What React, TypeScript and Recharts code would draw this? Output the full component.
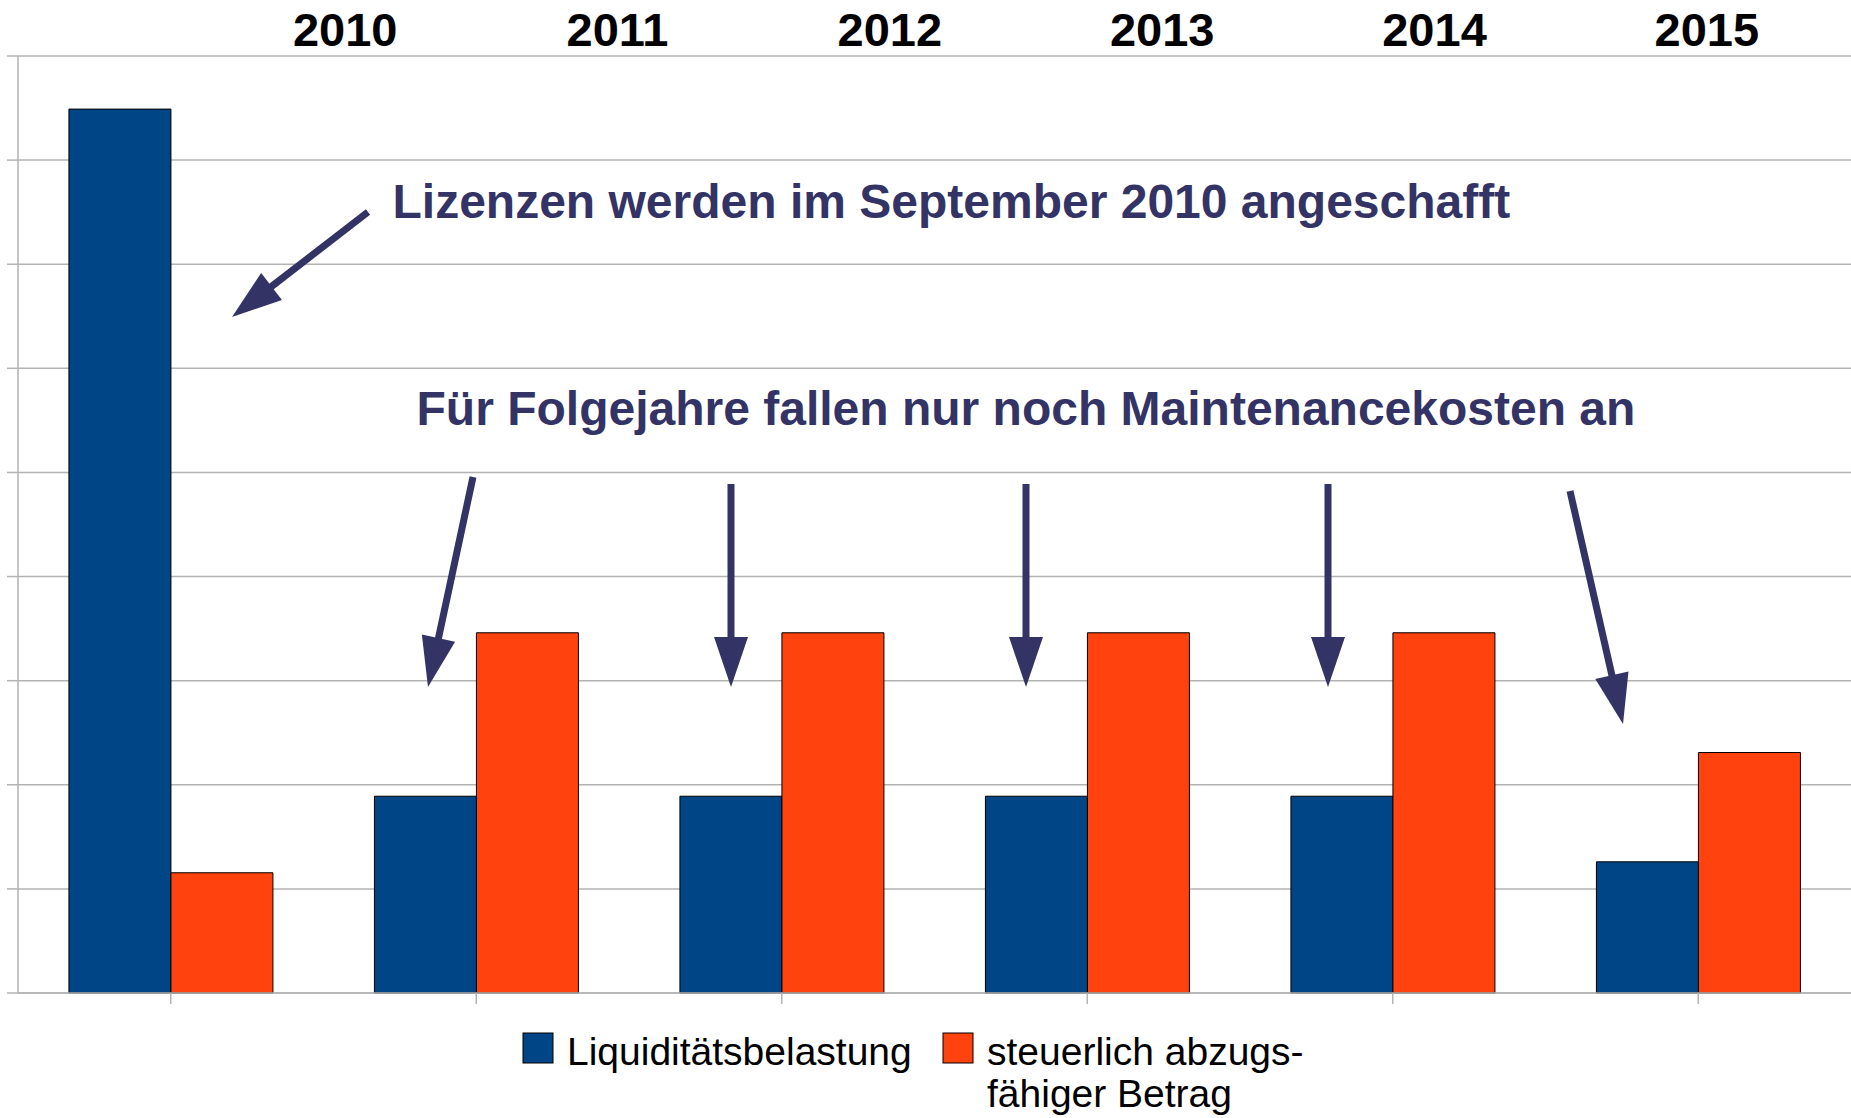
import { BarChart, Bar, XAxis, YAxis, CartesianGrid } from "recharts";

// values in grid units (one gridline = one unit)
const years = ["2010", "2011", "2012", "2013", "2014", "2015"];
const liquiditaet = [8.49, 1.89, 1.89, 1.89, 1.89, 1.26];
const abzugsfaehig = [1.155, 3.46, 3.46, 3.46, 3.46, 2.31];
const yTicks = [0, 1, 2, 3, 4, 5, 6, 7, 8, 9];

const legendLines = [["Liquiditätsbelastung"], ["steuerlich abzugs-", "fähiger Betrag"]];
const seriesColors = ["#004586", "#ff420e"];

const NAVY = "#333366";
const GRID = "#b3b3b3";
const FONT = '"Liberation Sans", Arial, sans-serif';

const data = years.map((year, i) => ({
  year,
  liq: liquiditaet[i],
  abz: abzugsfaehig[i],
}));

// annotation arrows, page pixels: [fromX, fromY, tipX, tipY]
const arrows = [
  [368, 212, 232, 317],
  [473, 477, 428, 687],
  [731, 484, 731, 687],
  [1026, 484, 1026, 687],
  [1328, 484, 1328, 687],
  [1570, 491, 1623, 724],
];

const Arrow = ({ a }: { a: number[] }) => {
  const [x1, y1, x2, y2] = a;
  const dx = x2 - x1;
  const dy = y2 - y1;
  const len = Math.hypot(dx, dy);
  const ux = dx / len;
  const uy = dy / len;
  const head = 50;
  const half = 17;
  const bx = x2 - ux * head;
  const by = y2 - uy * head;
  const px = -uy;
  const py = ux;
  return (
    <g>
      <line x1={x1} y1={y1} x2={bx + ux * 4} y2={by + uy * 4} stroke={NAVY} strokeWidth={7} />
      <polygon
        points={`${x2},${y2} ${bx + px * half},${by + py * half} ${bx - px * half},${by - py * half}`}
        fill={NAVY}
      />
    </g>
  );
};

const noLabel = () => "";

export default function App() {
  return (
    <div
      style={{
        position: "absolute",
        left: 0,
        top: 0,
        width: 1851,
        height: 1118,
        overflow: "hidden",
        background: "#fff",
        fontFamily: FONT,
      }}
    >
      <BarChart
        width={1851}
        height={1013}
        data={data}
        margin={{ top: 0, right: 0, bottom: 0, left: 0 }}
        barCategoryGap="16.67%"
        barGap={0}
      >
        <CartesianGrid xAxisId="bottom" vertical={false} stroke={GRID} strokeWidth={1.5} />
        <XAxis
          xAxisId="top"
          orientation="top"
          dataKey="year"
          height={56}
          padding={{ left: 191, right: 8 }}
          axisLine={false}
          tickLine={false}
          tickSize={0}
          tickMargin={10}
          interval={0}
          tick={{ fontSize: 47, fontWeight: "bold", fill: "#000", fontFamily: FONT }}
        />
        <XAxis
          xAxisId="bottom"
          dataKey="year"
          height={20}
          tickFormatter={noLabel}
          tickSize={11}
          interval={0}
          axisLine={{ stroke: GRID, strokeWidth: 1.5 }}
          tickLine={{ stroke: GRID, strokeWidth: 1.5 }}
        />
        <YAxis
          width={18}
          domain={[0, 9]}
          ticks={yTicks}
          interval={0}
          tickFormatter={noLabel}
          tickSize={11}
          axisLine={{ stroke: GRID, strokeWidth: 1.5 }}
          tickLine={{ stroke: GRID, strokeWidth: 1.5 }}
        />
        <Bar xAxisId="bottom" dataKey="liq" fill={seriesColors[0]} stroke="#000" strokeWidth={1} isAnimationActive={false} />
        <Bar xAxisId="bottom" dataKey="abz" fill={seriesColors[1]} stroke="#000" strokeWidth={1} isAnimationActive={false} />
      </BarChart>

      <svg
        width={1851}
        height={1118}
        style={{ position: "absolute", left: 0, top: 0, pointerEvents: "none" }}
      >
        <text x={392.5} y={218} fontSize={48} fontWeight="bold" fill={NAVY} fontFamily={FONT}>
          Lizenzen werden im September 2010 angeschafft
        </text>
        <text x={416.5} y={425} fontSize={48} fontWeight="bold" fill={NAVY} fontFamily={FONT}>
          Für Folgejahre fallen nur noch Maintenancekosten an
        </text>
        {arrows.map((a, i) => (
          <Arrow key={i} a={a} />
        ))}

        {legendLines.map((lines, i) => {
          const sx = i === 0 ? 523 : 943;
          return (
            <g key={i}>
              <rect x={sx} y={1033} width={30} height={30} fill={seriesColors[i]} stroke="#000" strokeWidth={1} />
              {lines.map((l, j) => (
                <text key={j} x={sx + 44} y={1065 + j * 42} fontSize={39} fill="#000" fontFamily={FONT}>
                  {l}
                </text>
              ))}
            </g>
          );
        })}
      </svg>
    </div>
  );
}
